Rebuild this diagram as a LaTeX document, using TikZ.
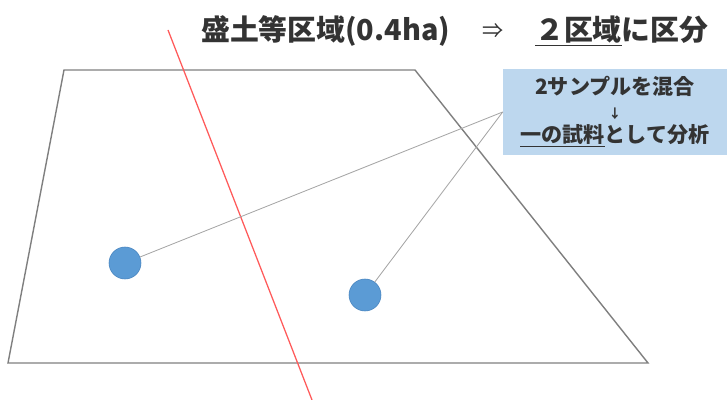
\documentclass[tikz,border=0pt]{standalone}
\usepackage{fontspec}
\usepackage{tikz}
\usetikzlibrary{positioning}
\newfontfamily\jpfont{Noto Sans CJK JP}
\definecolor{plotgray}{HTML}{7F7F7F}
\definecolor{linkgray}{HTML}{A6A6A6}
\definecolor{splitred}{HTML}{FF5A5A}
\definecolor{dotblue}{HTML}{5B9BD5}
\definecolor{dotedge}{HTML}{4A86C0}
\definecolor{notefill}{HTML}{BDD7EE}
\definecolor{textgray}{HTML}{333333}

\begin{document}
\begin{tikzpicture}[x=0.025cm, y=-0.025cm]
\tikzstyle{sample} = [circle, minimum size=0.8cm, inner sep=0pt, draw=dotedge, fill=dotblue]
\tikzstyle{note} = [rectangle, minimum width=5.6cm, minimum height=2.15cm, fill=notefill, align=center, text=textgray, font=\jpfont\bfseries\fontsize{15pt}{18.5pt}\selectfont]
\tikzstyle{heading} = [inner sep=0pt, text=textgray, font=\jpfont\bfseries\fontsize{20.5pt}{22pt}\selectfont]
\tikzstyle{link} = [draw=linkgray, line width=0.6pt]

\useasboundingbox (0,0) rectangle (728,400);

% Title
\node (area) [heading, anchor=west] at (201,31) {盛土等区域(0.4ha)};
\node (then) [heading, font=\jpfont\fontsize{15pt}{18pt}\selectfont] at (493,31) {⇒};
\node (split) [heading, anchor=west] at (535,31) {\underline{２区域}に区分};

% Plot outline
\coordinate (tl) at (64,70);
\coordinate (tr) at (415,70);
\coordinate (br) at (648,363);
\coordinate (bl) at (8,363);
\draw[plotgray, line width=1pt] (tl) -- (tr) -- (br) -- (bl) -- cycle;

% Dividing line
\coordinate (cuttop) at (168,30);
\coordinate (cutbot) at (312,400);
\draw[splitred, line width=0.9pt] (cuttop) -- (cutbot);

% Sampling points
\node (s1) [sample] at (125,263) {};
\node (s2) [sample] at (365,295) {};

% Mixing note
\node (mix) [note] at (615,112) {2サンプルを混合\\[-2pt]{\fontsize{9pt}{10pt}\selectfont ↓}\\[-1pt]\underline{一の試料}として分析};

% Links to the points
\foreach \s in {s1, s2} {
    \draw[link] (mix.west) -- (\s);
}

\end{tikzpicture}
\end{document}
